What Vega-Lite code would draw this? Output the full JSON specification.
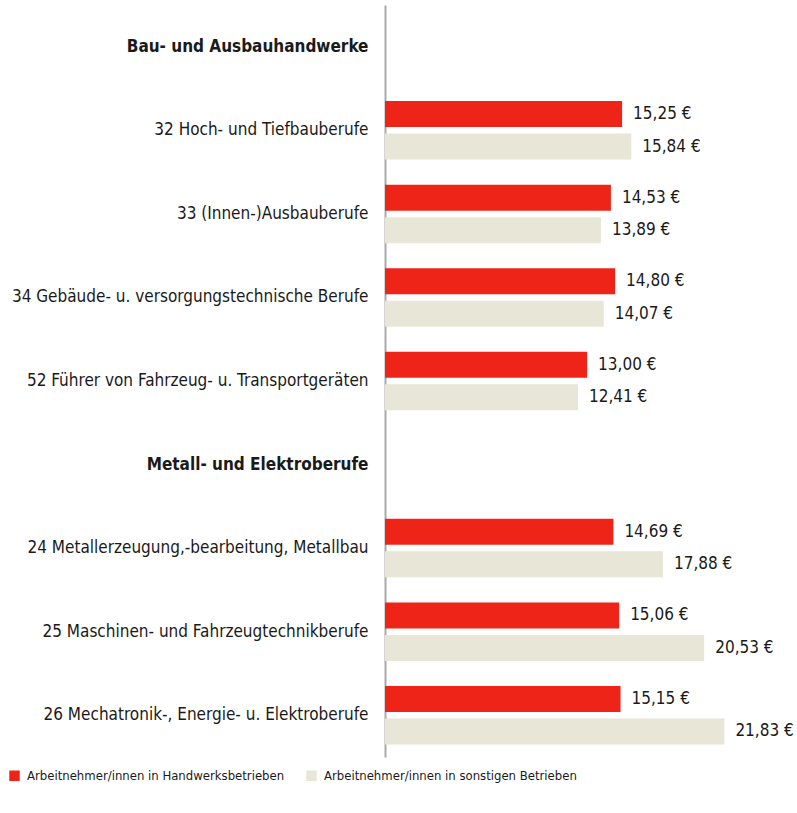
{
  "$schema": "https://vega.github.io/schema/vega-lite/v6.json",
  "width": 412,
  "height": 752,
  "autosize": {"type": "none"},
  "padding": {"left": 385, "top": 5, "right": 0, "bottom": 56},
  "background": "white",
  "config": {
    "view": {"stroke": null},
    "font": "Liberation Sans Narrow, DejaVu Sans Condensed, Roboto",
    "locale": {"number": {"decimal": ",", "thousands": ".", "grouping": [3], "currency": ["", " €"]}}
  },
  "data": {
    "values": [
      {"beruf": "32 Hoch- und Tiefbauberufe", "gruppe": "Arbeitnehmer/innen in Handwerksbetrieben", "lohn": 15.25},
      {"beruf": "32 Hoch- und Tiefbauberufe", "gruppe": "Arbeitnehmer/innen in sonstigen Betrieben", "lohn": 15.84},
      {"beruf": "33 (Innen-)Ausbauberufe", "gruppe": "Arbeitnehmer/innen in Handwerksbetrieben", "lohn": 14.53},
      {"beruf": "33 (Innen-)Ausbauberufe", "gruppe": "Arbeitnehmer/innen in sonstigen Betrieben", "lohn": 13.89},
      {"beruf": "34 Gebäude- u. versorgungstechnische Berufe", "gruppe": "Arbeitnehmer/innen in Handwerksbetrieben", "lohn": 14.80},
      {"beruf": "34 Gebäude- u. versorgungstechnische Berufe", "gruppe": "Arbeitnehmer/innen in sonstigen Betrieben", "lohn": 14.07},
      {"beruf": "52 Führer von Fahrzeug- u. Transportgeräten", "gruppe": "Arbeitnehmer/innen in Handwerksbetrieben", "lohn": 13.00},
      {"beruf": "52 Führer von Fahrzeug- u. Transportgeräten", "gruppe": "Arbeitnehmer/innen in sonstigen Betrieben", "lohn": 12.41},
      {"beruf": "24 Metallerzeugung,-bearbeitung, Metallbau", "gruppe": "Arbeitnehmer/innen in Handwerksbetrieben", "lohn": 14.69},
      {"beruf": "24 Metallerzeugung,-bearbeitung, Metallbau", "gruppe": "Arbeitnehmer/innen in sonstigen Betrieben", "lohn": 17.88},
      {"beruf": "25 Maschinen- und Fahrzeugtechnikberufe", "gruppe": "Arbeitnehmer/innen in Handwerksbetrieben", "lohn": 15.06},
      {"beruf": "25 Maschinen- und Fahrzeugtechnikberufe", "gruppe": "Arbeitnehmer/innen in sonstigen Betrieben", "lohn": 20.53},
      {"beruf": "26 Mechatronik-, Energie- u. Elektroberufe", "gruppe": "Arbeitnehmer/innen in Handwerksbetrieben", "lohn": 15.15},
      {"beruf": "26 Mechatronik-, Energie- u. Elektroberufe", "gruppe": "Arbeitnehmer/innen in sonstigen Betrieben", "lohn": 21.83}
    ]
  },
  "encoding": {
    "y": {
      "field": "beruf",
      "type": "nominal",
      "scale": {
        "domain": [
          "Bau- und Ausbauhandwerke",
          "32 Hoch- und Tiefbauberufe",
          "33 (Innen-)Ausbauberufe",
          "34 Gebäude- u. versorgungstechnische Berufe",
          "52 Führer von Fahrzeug- u. Transportgeräten",
          "Metall- und Elektroberufe",
          "24 Metallerzeugung,-bearbeitung, Metallbau",
          "25 Maschinen- und Fahrzeugtechnikberufe",
          "26 Mechatronik-, Energie- u. Elektroberufe"
        ],
        "paddingInner": 0.3,
        "paddingOuter": 0.15
      },
      "axis": {
        "title": null,
        "ticks": false,
        "grid": false,
        "domainColor": "#aaaaaa",
        "domainWidth": 2,
        "labelPadding": 17,
        "labelFontSize": 17,
        "labelColor": "#1a1a1a",
        "labelLimit": 500,
        "labelFontWeight": {
          "condition": {"test": "datum.value === 'Bau- und Ausbauhandwerke' || datum.value === 'Metall- und Elektroberufe'", "value": "bold"},
          "value": "normal"
        }
      }
    },
    "yOffset": {
      "field": "gruppe",
      "type": "nominal",
      "scale": {"paddingInner": 0.2, "paddingOuter": 0}
    },
    "x": {
      "field": "lohn",
      "type": "quantitative",
      "scale": {"domain": [0, 26.5], "nice": false},
      "axis": null
    }
  },
  "layer": [
    {
      "mark": {"type": "bar"},
      "encoding": {
        "color": {
          "field": "gruppe",
          "type": "nominal",
          "scale": {
            "domain": ["Arbeitnehmer/innen in Handwerksbetrieben", "Arbeitnehmer/innen in sonstigen Betrieben"],
            "range": ["#ee2419", "#e8e6d6"]
          },
          "legend": {
            "title": null,
            "orient": "none",
            "direction": "horizontal",
            "legendX": -377,
            "legendY": 764,
            "symbolType": "square",
            "symbolSize": 110,
            "symbolStrokeWidth": 0,
            "labelFontSize": 13,
            "labelColor": "#1a1a1a",
            "labelOffset": 6,
            "columnPadding": 20,
            "labelLimit": 400
          }
        }
      }
    },
    {
      "mark": {"type": "text", "align": "left", "baseline": "middle", "dx": 11, "fontSize": 17, "color": "#1a1a1a"},
      "encoding": {
        "text": {"field": "lohn", "type": "quantitative", "format": "$.2f"}
      }
    }
  ]
}
